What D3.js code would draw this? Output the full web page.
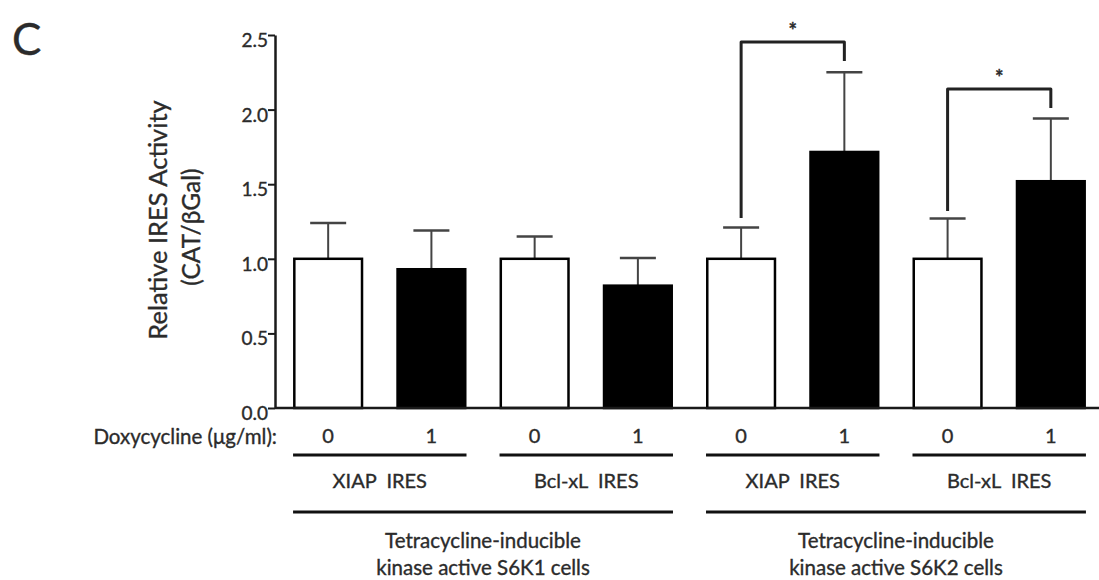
<!DOCTYPE html>
<html>
<head>
<meta charset="utf-8">
<script src="https://cdn.jsdelivr.net/npm/d3@7"></script>
<style>
  body { margin: 0; background: #fff; }
  text { font-family: Lato, "Open Sans", sans-serif; fill: #2b2b2b; stroke: #2b2b2b; stroke-width: 0.35px; }
</style>
</head>
<body>
<div class="chart"></div>
<script>
// panel C -- IRES activity, S6K1 / S6K2 cells

const width = 1099
const height = 580

const doxy = ['0', '1', '0', '1', '0', '1', '0', '1']
const ires = ['XIAP  IRES', 'XIAP  IRES', 'Bcl-xL  IRES', 'Bcl-xL  IRES',
              'XIAP  IRES', 'XIAP  IRES', 'Bcl-xL  IRES', 'Bcl-xL  IRES']
const cellLines = ['S6K1', 'S6K1', 'S6K1', 'S6K1', 'S6K2', 'S6K2', 'S6K2', 'S6K2']
const means = [1.00, 0.93, 1.00, 0.82, 1.00, 1.716, 1.00, 1.52]
const sems = [0.24, 0.26, 0.15, 0.185, 0.21, 0.535, 0.27, 0.42]
const yTicks = [0, 0.5, 1.0, 1.5, 2.0, 2.5]

// significance brackets: bar indexes, top level, end levels of each leg
const sigFrom = [4, 6]
const sigTo = [5, 7]
const sigTop = [2.453, 2.138]
const sigLeftEnd = [1.273, 1.32]
const sigRightEnd = [2.326, 2.01]

// lower annotation rows
const groupLabels = ['XIAP  IRES', 'Bcl-xL  IRES', 'XIAP  IRES', 'Bcl-xL  IRES']
const groupStart = [0, 2, 4, 6]
const cellLabels = [['Tetracycline-inducible', 'kinase active S6K1 cells'],
                    ['Tetracycline-inducible', 'kinase active S6K2 cells']]
const cellStart = [0, 4]

const bars = doxy.map((d, i) => ({ i, doxy: d, ires: ires[i], cell: cellLines[i], mean: means[i], sem: sems[i] }))

const svg = d3.select('.chart')
  .append('svg')
  .attr('width', width)
  .attr('height', height)

const x = d3.scaleBand()
  .domain(d3.range(8))
  .range([275, 1104])
  .paddingInner(0.32)
  .paddingOuter(0.175)

const y = d3.scaleLinear()
  .domain([0, 2.5])
  .range([408, 35])

// panel letter
svg.append('text')
  .attr('x', 12)
  .attr('y', 55)
  .style('font-size', '44px')
  .text('C')

// y axis
const yAxis = svg.append('g')
  .attr('transform', 'translate(275,0)')
  .call(d3.axisLeft(y).tickValues(yTicks).tickFormat(d3.format('.1f')).tickSize(7).tickSizeOuter(0).tickPadding(0))
yAxis.select('.domain').attr('stroke', '#1a1a1a').attr('stroke-width', 2.5)
yAxis.selectAll('.tick line').attr('stroke', '#1a1a1a').attr('stroke-width', 2)
yAxis.selectAll('.tick text')
  .attr('dy', '0.6em')
  .style('font-size', '19px')
  .style('font-family', 'Lato, sans-serif')
  .attr('fill', '#2b2b2b')

svg.append('text')
  .attr('transform', 'translate(167,220) rotate(-90)')
  .attr('text-anchor', 'middle')
  .style('font-size', '25.5px')
  .text('Relative IRES Activity')

svg.append('text')
  .attr('transform', 'translate(200,227) rotate(-90)')
  .attr('text-anchor', 'middle')
  .style('font-size', '24.5px')
  .text('(CAT/βGal)')

// error bars (drawn first so the bar outline covers the stem foot)
const err = svg.append('g')
  .attr('stroke', '#444')
err.selectAll('.stem')
  .data(bars)
  .join('line')
  .attr('class', 'stem')
  .attr('x1', d => x(d.i) + x.bandwidth() / 2)
  .attr('x2', d => x(d.i) + x.bandwidth() / 2)
  .attr('y1', d => y(d.mean))
  .attr('y2', d => y(d.mean + d.sem))
  .attr('stroke-width', 2)
err.selectAll('.cap')
  .data(bars)
  .join('line')
  .attr('class', 'cap')
  .attr('x1', d => x(d.i) + x.bandwidth() / 2 - 18)
  .attr('x2', d => x(d.i) + x.bandwidth() / 2 + 18)
  .attr('y1', d => y(d.mean + d.sem))
  .attr('y2', d => y(d.mean + d.sem))
  .attr('stroke-width', 2.5)

// bars
svg.append('g')
  .selectAll('rect')
  .data(bars)
  .join('rect')
  .attr('x', d => x(d.i) + 1.25)
  .attr('y', d => y(d.mean))
  .attr('width', x.bandwidth() - 2.5)
  .attr('height', d => y(0) - y(d.mean))
  .attr('fill', d => d.doxy === '1' ? '#000' : '#fff')
  .attr('stroke', '#000')
  .attr('stroke-width', 2.5)

// x baseline
svg.append('line')
  .attr('x1', x.range()[0])
  .attr('x2', x.range()[1])
  .attr('y1', y(0))
  .attr('y2', y(0))
  .attr('stroke', '#1a1a1a')
  .attr('stroke-width', 2.5)

// significance brackets
const cx = i => x(i) + x.bandwidth() / 2
sigFrom.forEach((a, k) => {
  const b = sigTo[k]
  svg.append('path')
    .attr('d', d3.line()([[cx(a), y(sigLeftEnd[k])], [cx(a), y(sigTop[k])], [cx(b), y(sigTop[k])], [cx(b), y(sigRightEnd[k])]]))
    .attr('fill', 'none')
    .attr('stroke', '#222')
    .attr('stroke-width', 3)
    .attr('stroke-linejoin', 'round')
  svg.append('text')
    .attr('x', (cx(a) + cx(b)) / 2)
    .attr('y', y(sigTop[k]) - 4)
    .attr('text-anchor', 'middle')
    .style('font-size', '20px')
    .style('font-weight', 'bold')
    .text('*')
})

// doxycycline row
svg.append('text')
  .attr('x', 277)
  .attr('y', 444)
  .attr('text-anchor', 'end')
  .style('font-size', '20.5px')
  .text('Doxycycline (μg/ml):')

svg.append('g')
  .selectAll('text')
  .data(bars)
  .join('text')
  .attr('x', d => cx(d.i))
  .attr('y', 443)
  .attr('text-anchor', 'middle')
  .style('font-size', '20px')
  .text(d => d.doxy)

// IRES groups
const groups = svg.append('g')
groups.selectAll('line')
  .data(groupStart)
  .join('line')
  .attr('x1', d => x(d))
  .attr('x2', d => x(d + 1) + x.bandwidth())
  .attr('y1', 455)
  .attr('y2', 455)
  .attr('stroke', '#111')
  .attr('stroke-width', 3)
groups.selectAll('text')
  .data(groupStart)
  .join('text')
  .attr('x', d => (x(d) + x(d + 1) + x.bandwidth()) / 2)
  .attr('y', 488)
  .attr('text-anchor', 'middle')
  .style('font-size', '20px')
  .style('white-space', 'pre')
  .text((d, k) => groupLabels[k])

// cell line groups
const cellsG = svg.append('g')
cellsG.selectAll('line')
  .data(cellStart)
  .join('line')
  .attr('x1', d => x(d))
  .attr('x2', d => x(d + 3) + x.bandwidth())
  .attr('y1', 512)
  .attr('y2', 512)
  .attr('stroke', '#111')
  .attr('stroke-width', 3)
cellStart.forEach((d, k) => {
  const mid = (x(d) + x(d + 3) + x.bandwidth()) / 2
  svg.append('text')
    .attr('x', mid)
    .attr('y', 548)
    .attr('text-anchor', 'middle')
    .style('font-size', '20.5px')
    .text(cellLabels[k][0])
  svg.append('text')
    .attr('x', mid)
    .attr('y', 575)
    .attr('text-anchor', 'middle')
    .style('font-size', '20.5px')
    .text(cellLabels[k][1])
})
</script>
</body>
</html>
